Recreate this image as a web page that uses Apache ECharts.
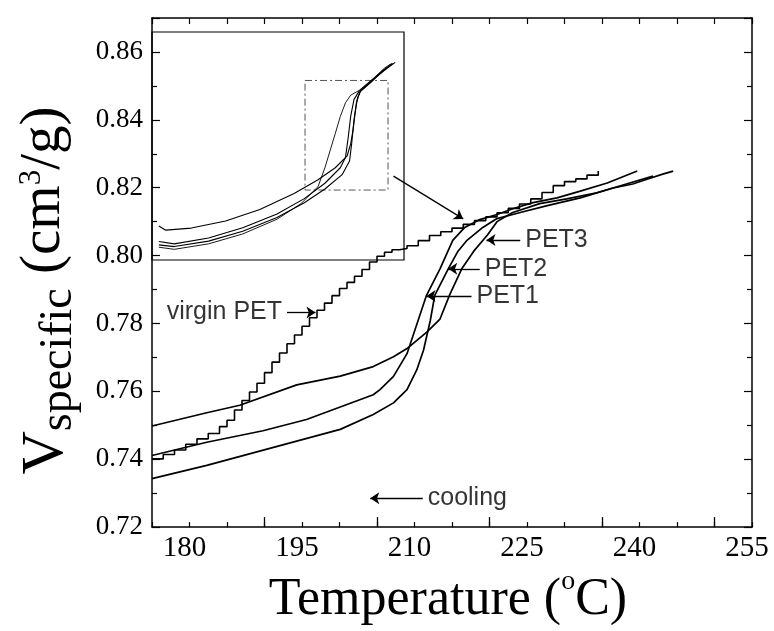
<!DOCTYPE html>
<html>
<head>
<meta charset="utf-8">
<script src="https://cdn.jsdelivr.net/npm/echarts@6/dist/echarts.min.js"></script>
<style>
  html, body { margin: 0; padding: 0; background: #fff; }
  #chart { width: 774px; height: 631px; }
</style>
</head>
<body>
<div id="chart"></div>
<script>
// Specific volume of PET on cooling (main plot, 175-255 °C)
// virgin PET is logged in small increments, drawn as a staircase
const virginT = [175, 176.5, 178, 179.5, 181, 182.5, 184, 185, 186, 187, 188, 189, 190, 191, 192, 193, 194, 195, 196, 197, 198, 199, 200, 201, 202, 203, 204, 205, 206, 207, 208, 209, 210.5, 212, 213.5, 215, 216.5, 218, 219.5, 221, 222.5, 224, 225.5, 227, 228.5, 230, 231.5, 233, 234.5];
const virginV = [0.7401, 0.7414, 0.7427, 0.7444, 0.7460, 0.7476, 0.7496, 0.7515, 0.7545, 0.7573, 0.7598, 0.7624, 0.7655, 0.7686, 0.7713, 0.7740, 0.7766, 0.7792, 0.7817, 0.7839, 0.7860, 0.7882, 0.7903, 0.7921, 0.7939, 0.7959, 0.7981, 0.7998, 0.8010, 0.8017, 0.8021, 0.8029, 0.8044, 0.8059, 0.8070, 0.8081, 0.8092, 0.8103, 0.8114, 0.8126, 0.8139, 0.8152, 0.8167, 0.8186, 0.8206, 0.8218, 0.8226, 0.8237, 0.8249];

const pet1T = [175.0, 182.3, 189.8, 195.6, 204.5, 205.4, 207.2, 209.0, 210.2, 211.6, 213.4, 215.1, 216.7, 218.7, 221.0, 223.1, 225.8, 229.0, 232.1, 235.7, 239.7];
const pet1V = [0.7411, 0.7450, 0.7484, 0.7517, 0.7590, 0.7605, 0.7644, 0.7711, 0.7790, 0.7883, 0.7961, 0.8045, 0.8083, 0.8106, 0.8121, 0.8138, 0.8156, 0.8170, 0.8190, 0.8214, 0.8249];

const pet2T = [175.0, 182.3, 191.2, 200.1, 204.5, 207.2, 209.0, 210.3, 211.2, 212.1, 212.7, 214.5, 215.8, 217.0, 219.1, 221.0, 224.1, 227.7, 232.1, 236.5, 239.1, 241.0, 243.1, 244.5];
const pet2V = [0.7343, 0.7382, 0.7435, 0.7488, 0.7532, 0.7566, 0.7605, 0.7663, 0.7721, 0.7808, 0.7883, 0.7961, 0.8013, 0.8045, 0.8083, 0.8109, 0.8127, 0.8147, 0.8170, 0.8199, 0.8211, 0.8225, 0.8240, 0.8249];

const pet3T = [175.0, 182.3, 186.7, 194.3, 200.1, 204.5, 207.2, 209.0, 211.6, 213.4, 214.7, 216.3, 217.9, 219.7, 221.0, 223.1, 226.7, 230.3, 234.3, 238.7, 241.8];
const pet3V = [0.7498, 0.7537, 0.7559, 0.7619, 0.7645, 0.7673, 0.7702, 0.7726, 0.7774, 0.7813, 0.7885, 0.7961, 0.8013, 0.8060, 0.8100, 0.8127, 0.8153, 0.8167, 0.8185, 0.8214, 0.8234];

// Full cooling runs shown in the inset (wider temperature range)
const insetVirginT = [74.9, 85.9, 110.4, 134.8, 159.3, 176.4, 188.6, 193.5, 197.2, 200.9, 204.5, 208.2, 211.9, 218.0, 227.8, 236.3, 240.0];
const insetVirginV = [0.6848, 0.6832, 0.6874, 0.6950, 0.7063, 0.7182, 0.7313, 0.7458, 0.7589, 0.7720, 0.7852, 0.7957, 0.8015, 0.8052, 0.8141, 0.8225, 0.8251];
const insetPet1T = [74.9, 85.9, 110.4, 134.8, 159.3, 178.8, 193.5, 204.5, 208.2, 210.2, 211.9, 214.3, 218.0, 227.8, 237.6, 243.7];
const insetPet1V = [0.6892, 0.6874, 0.6919, 0.6998, 0.7103, 0.7221, 0.7339, 0.7458, 0.7536, 0.7694, 0.7852, 0.7983, 0.8046, 0.8136, 0.8220, 0.8267];
const insetPet2T = [74.9, 85.9, 110.4, 134.8, 159.3, 178.8, 193.5, 205.8, 211.1, 212.6, 214.3, 216.0, 218.5, 230.2, 238.8, 241.2];
const insetPet2V = [0.6866, 0.6853, 0.6895, 0.6971, 0.7076, 0.7189, 0.7295, 0.7405, 0.7510, 0.7641, 0.7826, 0.7957, 0.8041, 0.8154, 0.8233, 0.8259];
const insetPet3T = [74.9, 79.8, 98.1, 122.6, 147.0, 171.5, 188.6, 200.9, 209.4, 211.9, 213.6, 215.1, 216.8, 219.2, 227.8, 235.1, 242.4];
const insetPet3V = [0.7011, 0.6979, 0.6995, 0.7050, 0.7137, 0.7260, 0.7366, 0.7458, 0.7550, 0.7641, 0.7747, 0.7878, 0.7996, 0.8049, 0.8128, 0.8207, 0.8259];

// Region of the inset that is enlarged in the main plot
const zoomBoxT = [179.3, 238.6];
const zoomBoxV = [0.7287, 0.8128];

// Axis tick values
const xLabelTicks = [180, 195, 210, 225, 240, 255];
const xLongTicks = [190, 205, 220, 235, 250];

// Callout arrows and their texts (tail -> head, in data units)
const callouts = [
  { text: 'virgin PET', tail: [193.0, 0.7832], head: [196.8, 0.7832], side: 'left' },
  { text: 'PET3', tail: [224.1, 0.8046], head: [219.6, 0.8046], side: 'right' },
  { text: 'PET2', tail: [218.7, 0.7961], head: [214.5, 0.7961], side: 'right' },
  { text: 'PET1', tail: [217.6, 0.7881], head: [211.6, 0.7881], side: 'right' },
  { text: 'cooling', tail: [211.1, 0.7285], head: [204.1, 0.7285], side: 'right' }
];
const zoomArrow = { tail: [207.2, 0.8234], head: [216.5, 0.8108] };

const zip = (a, b) => a.map((v, i) => [v, b[i]]);
const SERIF = '"Liberation Serif", "Times New Roman", serif';
const SANS = '"Liberation Sans", Arial, sans-serif';

const chart = echarts.init(document.getElementById('chart'), null, { renderer: 'canvas' });

const curve = (data, x, y, w) => ({
  type: 'line', data, xAxisIndex: x, yAxisIndex: y, showSymbol: false, symbol: 'none',
  lineStyle: { color: '#000', width: w }, z: 3, silent: true
});

const series = [
  Object.assign(curve(zip(virginT, virginV), 0, 0, 1.6), { step: 'end' }),
  curve(zip(pet1T, pet1V), 0, 0, 1.7),
  curve(zip(pet2T, pet2V), 0, 0, 1.7),
  curve(zip(pet3T, pet3V), 0, 0, 1.7),
  curve(zip(insetVirginT, insetVirginV), 3, 2, 0.9),
  curve(zip(insetPet1T, insetPet1V), 3, 2, 1.1),
  curve(zip(insetPet2T, insetPet2V), 3, 2, 1.1),
  Object.assign(curve(zip(insetPet3T, insetPet3V), 3, 2, 1.1), {
    markArea: {
      silent: true,
      itemStyle: { color: 'rgba(0,0,0,0)', borderColor: '#555', borderWidth: 1, borderType: [7, 3, 2, 3] },
      data: [[{ coord: [zoomBoxT[0], zoomBoxV[1]] }, { coord: [zoomBoxT[1], zoomBoxV[0]] }]]
    }
  }),
  {
    type: 'line', data: [], xAxisIndex: 0, yAxisIndex: 0, z: 6, silent: true,
    markLine: {
      silent: true, animation: false,
      symbol: ['none', 'arrow'], symbolSize: 9,
      lineStyle: { color: '#000', width: 1.3, type: 'solid' },
      label: { show: false },
      data: callouts.map(c => [{ coord: c.tail }, { coord: c.head }])
        .concat([[{ coord: zoomArrow.tail }, { coord: zoomArrow.head }]])
    }
  },
  {
    type: 'scatter', xAxisIndex: 0, yAxisIndex: 0, symbolSize: 0, z: 6, silent: true,
    data: callouts.map(c => ({
      name: c.text, value: c.tail,
      label: { show: true, position: c.side, distance: 5, formatter: '{b}',
        fontFamily: SANS, fontSize: 25, color: '#000' }
    }))
  }
];

const option = {
  animation: false,
  backgroundColor: '#fff',
  grid: [
    { left: 152, right: 22, top: 18, bottom: 95, show: false },
    { left: 152, top: 32, width: 252, height: 228, show: true, z: 1,
      backgroundColor: '#fff', borderColor: '#000', borderWidth: 1.2 }
  ],
  xAxis: [
    {
      type: 'value', gridIndex: 0, min: 175, max: 255, interval: 5, position: 'bottom', z: 5,
      axisLine: { show: true, lineStyle: { color: '#000', width: 1.5 } },
      axisTick: { show: true, inside: true, length: 5, lineStyle: { color: '#000', width: 1.2 } },
      splitLine: { show: false },
      axisLabel: {
        color: '#000', fontFamily: SERIF, fontSize: 29, margin: 7, padding: [0, 10, 0, 0],
        formatter: v => (xLabelTicks.indexOf(v) >= 0 ? String(v) : '')
      },
      name: '{a|Temperature (}{o|o}{a|C)}',
      nameLocation: 'middle', nameGap: 28,
      nameTextStyle: {
        padding: [0, 8, 0, 0],
        rich: {
          a: { fontFamily: SERIF, fontSize: 52, color: '#000', lineHeight: 58, verticalAlign: 'bottom' },
          o: { fontFamily: SERIF, fontSize: 28, color: '#000', lineHeight: 32, verticalAlign: 'top' }
        }
      }
    },
    {
      type: 'value', gridIndex: 0, min: 175, max: 255, position: 'bottom', z: 5,
      axisLine: { show: false },
      axisTick: { show: true, inside: true, length: 10, customValues: xLongTicks, lineStyle: { color: '#000', width: 1.3 } },
      axisLabel: { show: false }, splitLine: { show: false }
    },
    {
      type: 'value', gridIndex: 0, min: 175, max: 255, interval: 5, position: 'top', z: 5,
      axisLine: { show: true, lineStyle: { color: '#000', width: 1.5 } },
      axisTick: { show: true, inside: true, length: 6, lineStyle: { color: '#000', width: 1.2 } },
      axisLabel: { show: false }, splitLine: { show: false }
    },
    { type: 'value', gridIndex: 1, min: 70, max: 250, show: false, splitLine: { show: false } }
  ],
  yAxis: [
    {
      type: 'value', gridIndex: 0, min: 0.72, max: 0.87, interval: 0.02, position: 'left', z: 5,
      axisLine: { show: true, lineStyle: { color: '#000', width: 1.5 } },
      axisTick: { show: true, inside: true, length: 8, lineStyle: { color: '#000', width: 1.2 } },
      minorTick: { show: true, splitNumber: 2, length: 5, lineStyle: { color: '#000', width: 1.2 } },
      splitLine: { show: false },
      axisLabel: {
        color: '#000', fontFamily: SERIF, fontSize: 27, margin: 9, showMaxLabel: false,
        formatter: v => v.toFixed(2)
      },
      name: '{v|V}{s|specific}{p| (cm}{u|3}{p|/g)}',
      nameLocation: 'middle', nameGap: 70, nameRotate: 90,
      nameTextStyle: {
        padding: [0, 36, 0, 0],
        rich: {
          v: { fontFamily: SERIF, fontSize: 60, color: '#000', lineHeight: 66, verticalAlign: 'top' },
          s: { fontFamily: SERIF, fontSize: 46, color: '#000', lineHeight: 40, verticalAlign: 'bottom' },
          p: { fontFamily: SERIF, fontSize: 57, color: '#000', lineHeight: 66, verticalAlign: 'top' },
          u: { fontFamily: SERIF, fontSize: 31, color: '#000', lineHeight: 44, verticalAlign: 'top' }
        }
      }
    },
    {
      type: 'value', gridIndex: 0, min: 0.72, max: 0.87, interval: 0.02, position: 'right', z: 5,
      axisLine: { show: true, lineStyle: { color: '#000', width: 1.5 } },
      axisTick: { show: true, inside: true, length: 8, lineStyle: { color: '#000', width: 1.2 } },
      minorTick: { show: true, splitNumber: 2, length: 5, lineStyle: { color: '#000', width: 1.2 } },
      axisLabel: { show: false }, splitLine: { show: false }
    },
    { type: 'value', gridIndex: 1, min: 0.675, max: 0.85, show: false, splitLine: { show: false } }
  ],
  series
};

chart.setOption(option);
</script>
</body>
</html>
